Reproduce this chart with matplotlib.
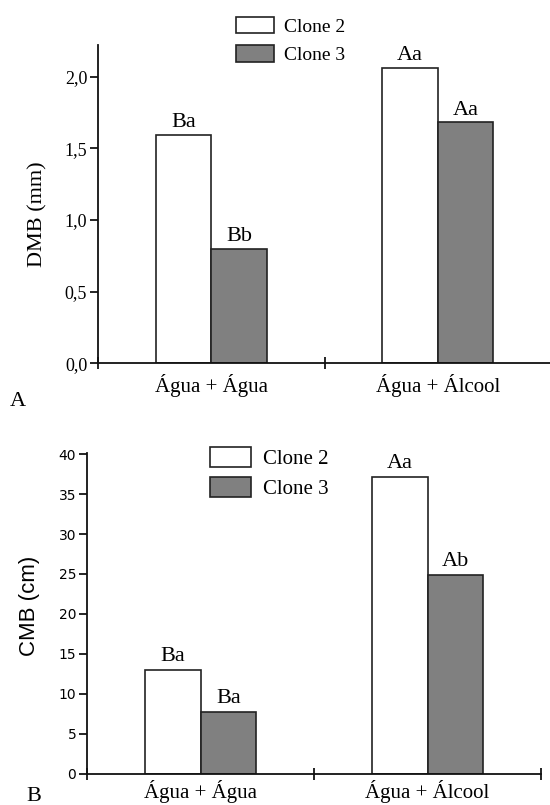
import numpy as np
import matplotlib
matplotlib.use("Agg")
import matplotlib.pyplot as plt

# data
categories = ["Água + Água", "Água + Álcool"]
series = ["Clone 2", "Clone 3"]
dmb_clone2 = [1.59, 2.06]
dmb_clone3 = [0.80, 1.68]
dmb_letters2 = ["Ba", "Aa"]
dmb_letters3 = ["Bb", "Aa"]
cmb_clone2 = [13.0, 37.2]
cmb_clone3 = [7.7, 24.9]
cmb_letters2 = ["Ba", "Aa"]
cmb_letters3 = ["Ba", "Ab"]
dmb_ticks = [0.0, 0.5, 1.0, 1.5, 2.0]
dmb_ticklabels = ["0,0", "0,5", "1,0", "1,5", "2,0"]
cmb_ticks = [0, 5, 10, 15, 20, 25, 30, 35, 40]

SERIF = "Liberation Serif"
W, H = 550, 805
fig = plt.figure(figsize=(W / 100, H / 100), dpi=100)


def px_axes(left, right, top, bottom):
    return fig.add_axes([left / W, 1 - bottom / H, (right - left) / W, (bottom - top) / H])


def draw_panel(ax, v2, v3, lab2, lab3, ymax, pad, xpad):
    x = np.arange(len(categories))
    w = 0.245
    b2 = ax.bar(x - w / 2, v2, w, color="white", edgecolor="#222222", linewidth=1.2, label=series[0], zorder=2)
    b3 = ax.bar(x + w / 2, v3, w, color="#808080", edgecolor="#222222", linewidth=1.2, label=series[1], zorder=2)
    for xi, v, t in zip(x - w / 2, v2, lab2):
        ax.text(xi, v + pad, t, ha="center", va="bottom", family=SERIF, fontsize=16)
    for xi, v, t in zip(x + w / 2, v3, lab3):
        ax.text(xi, v + pad, t, ha="center", va="bottom", family=SERIF, fontsize=16)
    ax.set_xlim(-0.5, 1.5)
    ax.set_ylim(0, ymax)
    for s in ["top", "right"]:
        ax.spines[s].set_visible(False)
    for s in ["left", "bottom"]:
        ax.spines[s].set_linewidth(1.3)
        ax.spines[s].set_color("#111111")
    ax.set_xticks(x)
    ax.set_xticklabels(categories, family=SERIF, fontsize=15)
    ax.tick_params(axis="x", length=0, pad=xpad)
    ax.set_xticks([-0.5, 0.5, 1.5], minor=True)
    ax.tick_params(axis="x", which="minor", direction="inout", length=8, width=1.2)
    ax.tick_params(axis="y", direction="out", length=6, width=1.2, pad=2)
    return b2, b3


# panel A
axA = px_axes(98.3, 551, 45, 363.3)
hA = draw_panel(axA, dmb_clone2, dmb_clone3, dmb_letters2, dmb_letters3, 2.22, 0.02, 8)
axA.set_yticks(dmb_ticks)
axA.set_yticklabels(dmb_ticklabels, family=SERIF, fontsize=13)
axA.set_ylabel("DMB (mm)", family=SERIF, fontsize=16)
axA.yaxis.set_label_coords(-0.113, 0.47)
legA = fig.legend(hA, series, loc="upper left", bbox_to_anchor=(222 / W, 1 - 3 / H),
                  frameon=False, prop={"family": SERIF, "size": 14}, handlelength=1.95,
                  handleheight=0.95, handletextpad=0.55, labelspacing=0.5, borderpad=0.2)

# panel B
axB = px_axes(87.3, 541, 452.7, 773.5)
hB = draw_panel(axB, cmb_clone2, cmb_clone3, cmb_letters2, cmb_letters3, 40.2, 0.5, 5)
axB.set_yticks(cmb_ticks)
axB.set_yticklabels([str(t) for t in cmb_ticks], family="DejaVu Sans", fontsize=10)
axB.set_ylabel("CMB (cm)", family="Liberation Sans", fontsize=16)
axB.yaxis.set_label_coords(-0.104, 0.522)
legB = fig.legend(hB, series, loc="upper left", bbox_to_anchor=(195 / W, 1 - 432 / H),
                  frameon=False, prop={"family": SERIF, "size": 15}, handlelength=2.0,
                  handleheight=1.1, handletextpad=0.55, labelspacing=0.4, borderpad=0.2)

fig.text(10 / W, 1 - 401 / H, "A", family=SERIF, fontsize=16, va="center")
fig.text(26 / W, 1 - 796 / H, "B", family=SERIF, fontsize=16, va="center")

fig.savefig("out.png", dpi=100)
